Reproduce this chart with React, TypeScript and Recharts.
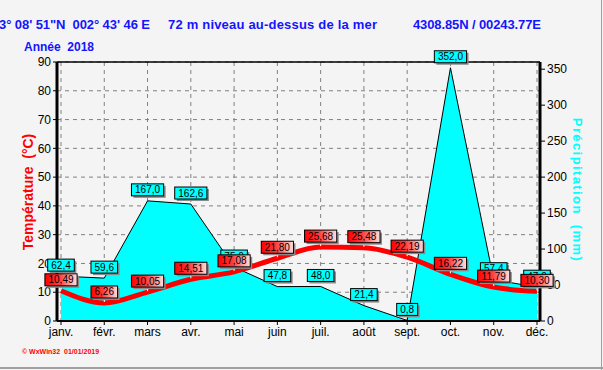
import React from 'react';
import { ComposedChart, Area, Line, XAxis, YAxis, CartesianGrid, LabelList, ReferenceLine } from 'recharts';

const months = ['janv.', 'févr.', 'mars', 'avr.', 'mai', 'juin', 'juil.', 'août', 'sept.', 'oct.', 'nov.', 'déc.'];
const temperature = [10.49, 6.26, 10.05, 14.51, 17.08, 21.8, 25.68, 25.48, 22.19, 16.22, 11.79, 10.3];
const precipitation = [62.4, 59.6, 167.0, 162.6, 75.0, 47.8, 48.0, 21.4, 0.8, 352.0, 57.4, 47.0];
const tempTicks = [0, 10, 20, 30, 40, 50, 60, 70, 80, 90];
const precipTicks = [0, 50, 100, 150, 200, 250, 300, 350];

const data = months.map((m, i) => ({ month: m, temp: temperature[i], precip: precipitation[i] }));

const FONT = 'Arial, "Liberation Sans", sans-serif';

function textWidth(s: string) {
  let w = 0;
  for (const c of s) w += c === ',' ? 2.8 : 5.6;
  return w;
}

function makeLabel(kind: 'temp' | 'precip') {
  return (props: any) => {
    const { x, y, value } = props;
    if (x == null || y == null || value == null) return null;
    const txt = kind === 'temp' ? Number(value).toFixed(2).replace('.', ',') : Number(value).toFixed(1).replace('.', ',');
    const w = textWidth(txt) + 7;
    const h = 12;
    const top = y - 17;
    const left = x - w / 2;
    return (
      <g>
        {kind === 'temp' && <line x1={x} x2={x} y1={top + h} y2={y - 1} stroke="#ffffff" strokeWidth={1} />}
        <rect x={left + 2} y={top + 2} width={w} height={h} fill="#8a8a8a" />
        <rect x={left} y={top} width={w} height={h} fill={kind === 'temp' ? 'url(#tempGrad)' : '#00ffff'} stroke="#000" strokeWidth={1} />
        <text x={x} y={top + 9.5} textAnchor="middle" fontSize={10} fontFamily={FONT} fill="#000">{txt}</text>
      </g>
    );
  };
}

export default function App() {
  return (
    <div style={{ position: 'absolute', left: 0, top: 0, width: 603, height: 370, background: '#f4f4f4', overflow: 'hidden' }}>
      <ComposedChart
        width={603}
        height={370}
        data={data}
        margin={{ top: 62, right: 0, bottom: 20, left: 0 }}
        style={{ position: 'absolute', left: 0, top: 0 }}
      >
        <defs>
          <linearGradient id="tempGrad" x1="0" y1="0" x2="1" y2="0">
            <stop offset="0%" stopColor="#ff0000" />
            <stop offset="45%" stopColor="#ff3a3a" />
            <stop offset="100%" stopColor="#ffe0e0" />
          </linearGradient>
        </defs>
        <CartesianGrid yAxisId="left" stroke="#808080" strokeDasharray="4 4" />
        <XAxis
          dataKey="month"
          scale="point"
          padding={{ left: 4, right: 3 }}
          axisLine={{ stroke: '#000', strokeWidth: 2 }}
          tickLine={{ stroke: '#000' }}
          tickSize={4}
          tick={{ fontSize: 12, fontFamily: FONT, fill: '#000' }}
          height={29}
          interval={0}
        />
        <YAxis
          yAxisId="left"
          orientation="left"
          domain={[0, 90]}
          ticks={tempTicks}
          width={57}
          axisLine={{ stroke: '#000', strokeWidth: 3 }}
          tickLine={{ stroke: '#000' }}
          tickSize={4}
          tick={{ fontSize: 12, fontFamily: FONT, fill: '#000' }}
          interval={0}
        />
        <YAxis
          yAxisId="right"
          orientation="right"
          domain={[0, 360]}
          ticks={precipTicks}
          width={63}
          axisLine={{ stroke: '#000', strokeWidth: 3 }}
          tickLine={{ stroke: '#000' }}
          tickSize={5}
          tick={{ fontSize: 12, fontFamily: FONT, fill: '#000' }}
          interval={0}
        />
        <ReferenceLine yAxisId="left" y={90} stroke="#000" strokeWidth={1.5} />
        <Area
          yAxisId="right"
          dataKey="precip"
          type="linear"
          fill="#00ffff"
          fillOpacity={1}
          stroke="#000"
          strokeWidth={1}
          isAnimationActive={false}
          dot={false}
          activeDot={false}
        >
          <LabelList dataKey="precip" content={makeLabel('precip')} />
        </Area>
        <Line
          yAxisId="left"
          dataKey="temp"
          type="monotone"
          stroke="#ff0000"
          strokeWidth={5}
          dot={false}
          activeDot={false}
          isAnimationActive={false}
        >
          <LabelList dataKey="temp" content={makeLabel('temp')} />
        </Line>
      </ComposedChart>
      <svg width={603} height={370} style={{ position: 'absolute', left: 0, top: 0, pointerEvents: 'none' }}>
        <text x={-1} y={29} fontSize={13} fontWeight="bold" fontFamily={FONT} fill="#1414ff" textLength={151} lengthAdjust="spacing" style={{ whiteSpace: 'pre' }}>
          {'3° 08\' 51"N  002° 43\' 46 E'}
        </text>
        <text x={168} y={29} fontSize={13} fontWeight="bold" fontFamily={FONT} fill="#1414ff" textLength={209} lengthAdjust="spacing" style={{ whiteSpace: 'pre' }}>
          72 m niveau au-dessus de la mer
        </text>
        <text x={413} y={29} fontSize={13} fontWeight="bold" fontFamily={FONT} fill="#1414ff" textLength={128} lengthAdjust="spacing" style={{ whiteSpace: 'pre' }}>
          4308.85N / 00243.77E
        </text>
        <text x={24} y={51} fontSize={12} fontWeight="bold" fontFamily={FONT} fill="#1414ff" style={{ whiteSpace: 'pre' }}>
          {'Année  2018'}
        </text>
        <text
          x={0}
          y={0}
          transform="translate(33,192) rotate(-90)"
          textAnchor="middle"
          fontSize={14}
          fontWeight="bold"
          fontFamily={FONT}
          fill="#ff0000"
          style={{ whiteSpace: 'pre' }}
        >
          {'Température  (°C)'}
        </text>
        <text
          x={0}
          y={0}
          transform="translate(573,190) rotate(90)"
          textAnchor="middle"
          fontSize={13}
          fontWeight="bold"
          fontFamily={FONT}
          fill="#00ffff"
          letterSpacing={1.4}
          style={{ whiteSpace: 'pre' }}
        >
          {'Précipitation  (mm)'}
        </text>
        <text x={22} y={354} fontSize={7} fontWeight="bold" fontFamily={FONT} fill="#ff0000" style={{ whiteSpace: 'pre' }}>
          {'© WxWin32  01/01/2019'}
        </text>
        <line x1={0} x2={603} y1={368} y2={368} stroke="#a0a0a0" strokeWidth={2} />
        <line x1={601.5} x2={601.5} y1={0} y2={370} stroke="#a0a0a0" strokeWidth={1} />
      </svg>
    </div>
  );
}
